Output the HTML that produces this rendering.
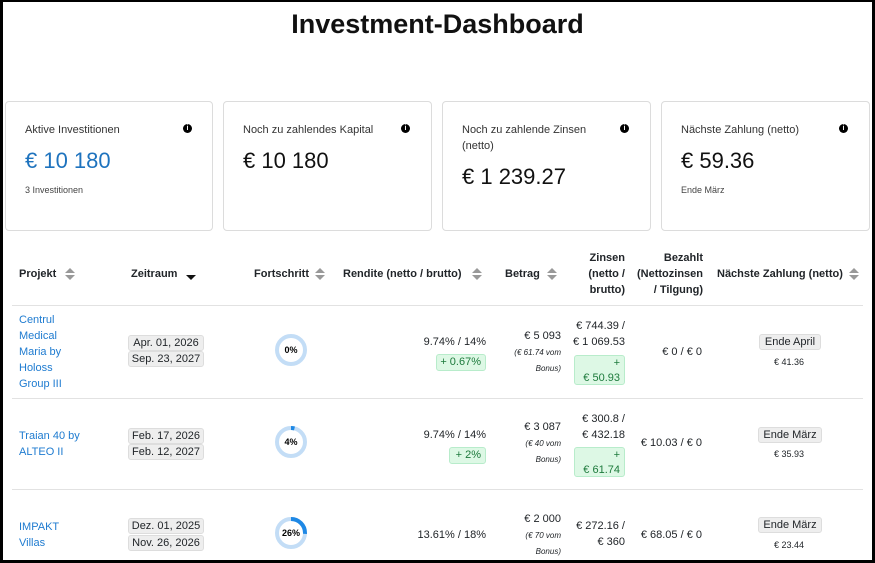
<!DOCTYPE html>
<html><head><meta charset="utf-8">
<style>
html,body{margin:0;padding:0;}
body{width:875px;height:563px;position:relative;overflow:hidden;background:#fff;font-family:"Liberation Sans","DejaVu Sans",sans-serif;color:#212529;}
#frame{position:absolute;left:0;top:0;width:869px;height:558px;border-left:3px solid #000;border-right:3px solid #000;border-top:2px solid #000;border-bottom:3px solid #000;}
.a{position:absolute;white-space:nowrap;line-height:16px;font-size:11px;}
.r{text-align:right;}
.card{position:absolute;top:101px;height:128px;border:1px solid #dcdcdc;border-radius:4px;}
.lbl{font-size:11px;color:#333;}
.big{font-size:22px;line-height:28px;}
.info{position:absolute;width:9px;height:9px;border-radius:50%;background:#000;color:#fff;font-size:7px;line-height:9px;text-align:center;font-weight:bold;}
.h{font-weight:bold;font-size:11px;}
.sort{position:absolute;width:0;height:0;}
.up{border-left:5px solid transparent;border-right:5px solid transparent;border-bottom:5px solid #999;}
.dn{border-left:5px solid transparent;border-right:5px solid transparent;border-top:5px solid #999;}
.hl{position:absolute;left:12px;width:851px;height:1px;background:#e2e2e2;}
.badge{position:absolute;background:#eee;border:1px solid #ddd;border-radius:3px;font-size:11px;line-height:14px;text-align:center;}
.green{position:absolute;background:#ddf8e5;border:1px solid #b8eccb;border-radius:3px;color:#1d7a3c;font-size:11px;line-height:15px;text-align:right;padding-right:4px;box-sizing:border-box;}
.link{color:#1e7bd0;}
.it{font-style:italic;font-size:8px;}
.sm{font-size:9px;}
</style></head><body>
<div id="frame"></div>
<div class="a" style="left:0;width:875px;top:6px;text-align:center;font-size:27px;line-height:36px;font-weight:bold;color:#111;">Investment-Dashboard</div>

<div class="card" style="left:5px;width:206px;">
 <div class="a lbl" style="left:19px;top:20px;">Aktive Investitionen</div>
 <div class="info" style="left:177px;top:22px;">i</div>
 <div class="a big" style="left:19px;top:45px;color:#1e73be;">€ 10 180</div>
 <div class="a sm" style="left:19px;top:80px;color:#444;">3 Investitionen</div>
</div>
<div class="card" style="left:223px;width:207px;">
 <div class="a lbl" style="left:19px;top:20px;">Noch zu zahlendes Kapital</div>
 <div class="info" style="left:177px;top:22px;">i</div>
 <div class="a big" style="left:19px;top:45px;color:#111;">€ 10 180</div>
</div>
<div class="card" style="left:442px;width:207px;">
 <div class="a lbl" style="left:19px;top:20px;">Noch zu zahlende Zinsen</div>
 <div class="a lbl" style="left:19px;top:36px;">(netto)</div>
 <div class="info" style="left:177px;top:22px;">i</div>
 <div class="a big" style="left:19px;top:61px;color:#111;">€ 1 239.27</div>
</div>
<div class="card" style="left:661px;width:207px;">
 <div class="a lbl" style="left:19px;top:20px;">Nächste Zahlung (netto)</div>
 <div class="info" style="left:177px;top:22px;">i</div>
 <div class="a big" style="left:19px;top:45px;color:#111;">€ 59.36</div>
 <div class="a sm" style="left:19px;top:80px;color:#444;">Ende März</div>
</div>

<!-- headers -->
<div class="a h" style="left:19px;top:266px;">Projekt</div>
<div class="sort up" style="left:65px;top:268px;"></div><div class="sort dn" style="left:65px;top:275px;"></div>
<div class="a h" style="left:131px;top:266px;">Zeitraum</div>
<div class="sort" style="left:186px;top:275px;border-left:5px solid transparent;border-right:5px solid transparent;border-top:5px solid #111;"></div>
<div class="a h" style="left:254px;top:266px;">Fortschritt</div>
<div class="sort up" style="left:315px;top:268px;"></div><div class="sort dn" style="left:315px;top:275px;"></div>
<div class="a h" style="left:343px;top:266px;">Rendite (netto / brutto)</div>
<div class="sort up" style="left:472px;top:268px;"></div><div class="sort dn" style="left:472px;top:275px;"></div>
<div class="a h" style="left:505px;top:266px;">Betrag</div>
<div class="sort up" style="left:547px;top:268px;"></div><div class="sort dn" style="left:547px;top:275px;"></div>
<div class="a h r" style="right:250px;top:250px;">Zinsen<br>(netto /<br>brutto)</div>
<div class="a h r" style="right:172px;top:250px;">Bezahlt<br>(Nettozinsen<br>/ Tilgung)</div>
<div class="a h" style="left:717px;top:266px;">Nächste Zahlung (netto)</div>
<div class="sort up" style="left:849px;top:268px;"></div><div class="sort dn" style="left:849px;top:275px;"></div>
<div class="hl" style="top:305px;"></div>

<!-- row 1 -->
<div class="a link" style="left:19px;top:312px;">Centrul<br>Medical<br>Maria by<br>Holoss<br>Group III</div>
<div class="badge" style="left:128px;top:335px;width:74px;">Apr. 01, 2026</div>
<div class="badge" style="left:128px;top:351px;width:74px;">Sep. 23, 2027</div>
<div class="a r" style="right:389px;top:334px;">9.74% / 14%</div>
<div class="green" style="left:436px;top:354px;width:50px;">+ 0.67%</div>
<div class="a r" style="right:314px;top:328px;">€ 5 093</div>
<div class="a r it" style="right:314px;top:345px;">(€ 61.74 vom<br>Bonus)</div>
<div class="a r" style="right:250px;top:318px;">€ 744.39 /<br>€ 1 069.53</div>
<div class="green" style="left:574px;top:355px;width:51px;height:30px;">+<br>€ 50.93</div>
<div class="a r" style="right:173px;top:344px;">€ 0 / € 0</div>
<div class="badge" style="left:759px;top:334px;width:60px;">Ende April</div>
<div class="a sm" style="left:759px;width:60px;text-align:center;top:354px;">€ 41.36</div>
<div class="hl" style="top:398px;"></div>

<!-- row 2 -->
<div class="a link" style="left:19px;top:428px;">Traian 40 by<br>ALTEO II</div>
<div class="badge" style="left:128px;top:428px;width:74px;">Feb. 17, 2026</div>
<div class="badge" style="left:128px;top:444px;width:74px;">Feb. 12, 2027</div>
<div class="a r" style="right:389px;top:427px;">9.74% / 14%</div>
<div class="green" style="left:449px;top:447px;width:37px;">+ 2%</div>
<div class="a r" style="right:314px;top:419px;">€ 3 087</div>
<div class="a r it" style="right:314px;top:436px;">(€ 40 vom<br>Bonus)</div>
<div class="a r" style="right:250px;top:411px;">€ 300.8 /<br>€ 432.18</div>
<div class="green" style="left:574px;top:447px;width:51px;height:30px;">+<br>€ 61.74</div>
<div class="a r" style="right:173px;top:435px;">€ 10.03 / € 0</div>
<div class="badge" style="left:758px;top:427px;width:62px;">Ende März</div>
<div class="a sm" style="left:759px;width:60px;text-align:center;top:446px;">€ 35.93</div>
<div class="hl" style="top:489px;"></div>

<!-- row 3 -->
<div class="a link" style="left:19px;top:519px;">IMPAKT<br>Villas</div>
<div class="badge" style="left:128px;top:518px;width:74px;">Dez. 01, 2025</div>
<div class="badge" style="left:128px;top:535px;width:74px;">Nov. 26, 2026</div>
<div class="a r" style="right:389px;top:527px;">13.61% / 18%</div>
<div class="a r" style="right:314px;top:511px;">€ 2 000</div>
<div class="a r it" style="right:314px;top:528px;">(€ 70 vom<br>Bonus)</div>
<div class="a r" style="right:250px;top:518px;">€ 272.16 /<br>€ 360</div>
<div class="a r" style="right:173px;top:527px;">€ 68.05 / € 0</div>
<div class="badge" style="left:758px;top:517px;width:62px;">Ende März</div>
<div class="a sm" style="left:759px;width:60px;text-align:center;top:537px;">€ 23.44</div>

<svg id="rings" width="875" height="563" style="position:absolute;left:0;top:0;pointer-events:none;"></svg>
<script>
const progressValues = [0, 4, 26];
const ringCentersY = [350, 442, 533];
const svg = document.getElementById('rings');
const NS = 'http://www.w3.org/2000/svg';
const R = 14, CX = 291;
progressValues.forEach((p, i) => {
  const cy = ringCentersY[i];
  const bg = document.createElementNS(NS, 'circle');
  bg.setAttribute('cx', CX); bg.setAttribute('cy', cy); bg.setAttribute('r', R);
  bg.setAttribute('fill', 'none'); bg.setAttribute('stroke', '#c3ddf6'); bg.setAttribute('stroke-width', 4);
  
  
  svg.appendChild(bg);
  const circ = 2 * Math.PI * R;
  const fg = document.createElementNS(NS, 'circle');
  fg.setAttribute('cx', CX); fg.setAttribute('cy', cy); fg.setAttribute('r', R);
  fg.setAttribute('fill', 'none'); fg.setAttribute('stroke', '#1e88e5'); fg.setAttribute('stroke-width', 4);
  fg.setAttribute('stroke-dasharray', (circ * p / 100) + ' ' + circ);
  fg.setAttribute('transform', 'rotate(-90 ' + CX + ' ' + cy + ')');
  
  
  svg.appendChild(fg);
  const t = document.createElementNS(NS, 'text');
  t.setAttribute('x', CX); t.setAttribute('y', cy + 3);
  t.setAttribute('text-anchor', 'middle'); t.setAttribute('font-size', '9');
  t.setAttribute('font-weight', 'bold');
  t.setAttribute('font-family', 'Liberation Sans, sans-serif');
  t.textContent = p + '%';
  
  
  svg.appendChild(t);
});
</script>
</body></html>
